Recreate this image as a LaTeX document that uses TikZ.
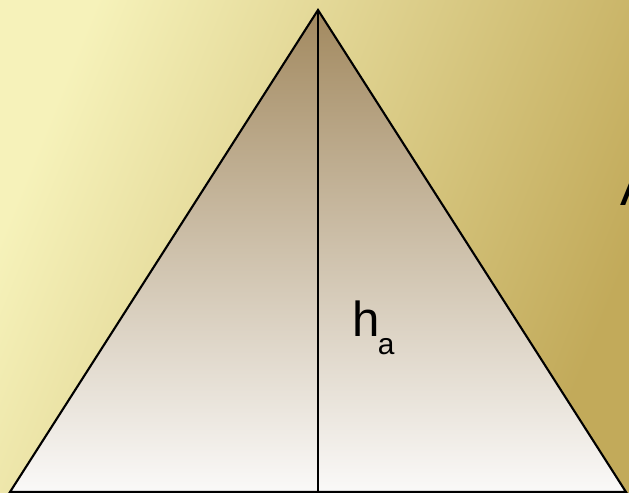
\documentclass[tikz,border=0pt]{standalone}
\usepackage{fontspec}
\setmainfont{Liberation Sans}
\usetikzlibrary{positioning}
\definecolor{bglight}{RGB}{246,242,186}
\definecolor{bgdark}{RGB}{194,170,90}
\definecolor{tritop}{RGB}{162,137,95}
\definecolor{tribot}{RGB}{250,249,248}

\begin{document}
\begin{tikzpicture}[x=0.02cm,y=-0.02cm]

%---------------------------------------
% Corners of the triangle
%---------------------------------------
\def\Wd{629}
\def\Ht{493}

\coordinate (apex) at (318,10);
\coordinate (left) at (10,492);
\coordinate (right) at (626,492);
\coordinate (foot) at (318,492);

\useasboundingbox (0,0) rectangle (\Wd,\Ht);

%====================================================
% Background
%====================================================
\begin{scope}
  \clip (0,0) rectangle (\Wd,\Ht);
  \shade[top color=bglight, bottom color=bgdark, shading angle=68]
        (0,0) rectangle (\Wd,\Ht);

  % letter cut by the border
  \node[anchor=base west, inner sep=0pt, font=\fontsize{30}{30}\selectfont]
        (lblA) at (620,206) {A};

  % Triangle and its height
  \shade[top color=tritop, bottom color=tribot] (apex) -- (left) -- (right) -- cycle;
  \draw[line width=1.2pt, line join=miter] (apex) -- (left) -- (right) -- cycle;
  \draw[line width=1.2pt] (apex) -- (foot);
\end{scope}

\node[anchor=base west, inner sep=0pt, font=\fontsize{28}{28}\selectfont]
      (ha) at (352,337) {h};
\node[anchor=base west, inner sep=0pt, font=\fontsize{17}{17}\selectfont]
      (hsub) at ([xshift=-1.5pt,yshift=-10pt]ha.base east) {a};

\end{tikzpicture}
\end{document}
